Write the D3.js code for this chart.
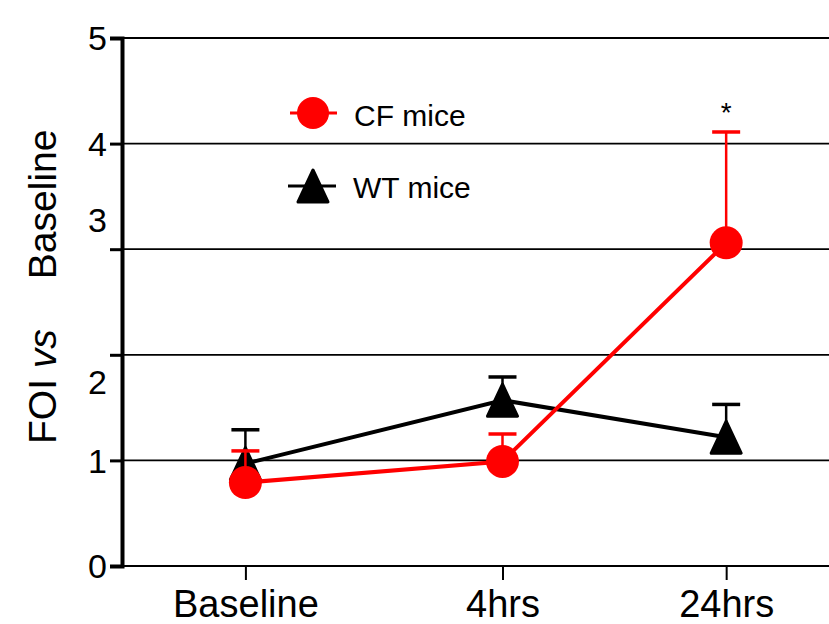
<!DOCTYPE html>
<html>
<head>
    <script src="https://d3js.org/d3.v7.min.js"></script>
    <style>
        body { margin: 0; background: #fff; }
        text { font-family: "Liberation Sans", Arial, sans-serif; fill: #000; }
    </style>
</head>
<body>
    <svg width="829" height="624"></svg>

    <script>
        // Values
        const categories = ["Baseline", "4hrs", "24hrs"];
        const catPos = [1, 2, 2.87];          // categories are not evenly spaced
        const cfMean = [0.79, 0.99, 3.06];
        const cfErr  = [0.30, 0.26, 1.05];
        const wtMean = [0.97, 1.57, 1.22];
        const wtErr  = [0.32, 0.22, 0.31];
        const yTicks = [0, 1, 2, 3, 4, 5];

        const svg = d3.select("svg");
        const plotLeft = 122, plotRight = 829, plotTop = 38, plotBottom = 566;

        const x = d3.scaleLinear().domain([0.52, 3.27]).range([plotLeft, plotRight]);
        const y = d3.scaleLinear().domain([0, 5]).range([plotBottom, plotTop]);

        // Gridlines
        svg.append("g")
            .selectAll("line")
            .data(yTicks.slice(1))
            .enter().append("line")
            .attr("x1", plotLeft).attr("x2", plotRight)
            .attr("y1", d => y(d)).attr("y2", d => y(d))
            .attr("stroke", "#000").attr("stroke-width", 1.8);

        // Y axis
        const yAxis = svg.append("g")
            .attr("transform", `translate(${plotLeft},0)`)
            .attr("font-size", null)
            .call(d3.axisLeft(y).tickValues(yTicks).tickSize(12).tickPadding(3).tickFormat(d3.format("d")));
        yAxis.attr("font-size", 34).attr("font-family", null);
        yAxis.select(".domain").attr("stroke-width", 4);
        yAxis.selectAll(".tick line").attr("stroke-width", 3);
        yAxis.selectAll(".tick text")
            .attr("dy", d => d === 3 ? "-0.52em" : d === 2 ? "1.15em" : "0.35em");

        // X axis
        const xAxis = svg.append("g")
            .attr("transform", `translate(0,${plotBottom})`)
            .call(d3.axisBottom(x).tickValues(catPos).tickSize(14).tickPadding(10)
                .tickFormat((d, i) => categories[i]));
        xAxis.attr("font-size", 38).attr("font-family", null);
        xAxis.select(".domain").attr("stroke-width", 2).attr("d", `M${plotLeft},0H${plotRight}`);
        xAxis.selectAll(".tick line").attr("stroke-width", 2);

        // Y axis title
        const yTitle = svg.append("text")
            .attr("transform", "translate(56,444) rotate(-90)")
            .style("font-size", "39px");
        yTitle.append("tspan").text("FOI ");
        yTitle.append("tspan").style("font-style", "italic").text("vs");
        yTitle.append("tspan").attr("dx", 50).text("Baseline");

        const triangle = {
            draw(ctx) {
                ctx.moveTo(0, -16);
                ctx.lineTo(15, 16);
                ctx.lineTo(-15, 16);
                ctx.closePath();
            }
        };

        function drawSeries(mean, err, color, marker) {
            const g = svg.append("g");
            const pts = mean.map((m, i) => ({ x: catPos[i], m, e: err[i] }));

            g.append("path")
                .datum(pts)
                .attr("fill", "none")
                .attr("stroke", color)
                .attr("stroke-width", 4)
                .attr("d", d3.line().x(d => x(d.x)).y(d => y(d.m)));

            const eb = g.selectAll(".err").data(pts).enter().append("g");
            eb.append("line")
                .attr("x1", d => x(d.x)).attr("x2", d => x(d.x))
                .attr("y1", d => y(d.m)).attr("y2", d => y(d.m + d.e))
                .attr("stroke", color).attr("stroke-width", 2.5);
            eb.append("line")
                .attr("x1", d => x(d.x) - 14).attr("x2", d => x(d.x) + 14)
                .attr("y1", d => y(d.m + d.e)).attr("y2", d => y(d.m + d.e))
                .attr("stroke", color).attr("stroke-width", 3.5);

            if (marker === "circle") {
                g.selectAll(".pt").data(pts).enter().append("circle")
                    .attr("cx", d => x(d.x)).attr("cy", d => y(d.m))
                    .attr("r", 16.5).attr("fill", color);
            } else {
                g.selectAll(".pt").data(pts).enter().append("path")
                    .attr("transform", d => `translate(${x(d.x)},${y(d.m)})`)
                    .attr("d", d3.symbol(triangle)())
                    .attr("fill", color).attr("stroke", color)
                    .attr("stroke-width", 3).attr("stroke-linejoin", "round");
            }
        }

        drawSeries(wtMean, wtErr, "#000", "triangle");
        drawSeries(cfMean, cfErr, "#ff0000", "circle");

        // Significance mark
        svg.append("text")
            .attr("x", x(catPos[2])).attr("y", 122)
            .attr("text-anchor", "middle")
            .style("font-size", "28px")
            .text("*");

        // Legend
        const legend = svg.append("g");
        const cf = legend.append("g").attr("transform", "translate(313,113)");
        cf.append("line").attr("x1", -23).attr("x2", 24).attr("stroke", "#ff0000").attr("stroke-width", 3);
        cf.append("circle").attr("r", 16).attr("fill", "#ff0000");
        cf.append("text").attr("x", 41).attr("y", 13).style("font-size", "30px").text("CF mice");

        const wt = legend.append("g").attr("transform", "translate(313,186)");
        wt.append("line").attr("x1", -25).attr("x2", 23).attr("stroke", "#000").attr("stroke-width", 3);
        wt.append("path").attr("d", d3.symbol(triangle)())
            .attr("fill", "#000").attr("stroke", "#000")
            .attr("stroke-width", 3).attr("stroke-linejoin", "round");
        wt.append("text").attr("x", 40).attr("y", 12).style("font-size", "30px").text("WT mice");
    </script>
</body>
</html>
